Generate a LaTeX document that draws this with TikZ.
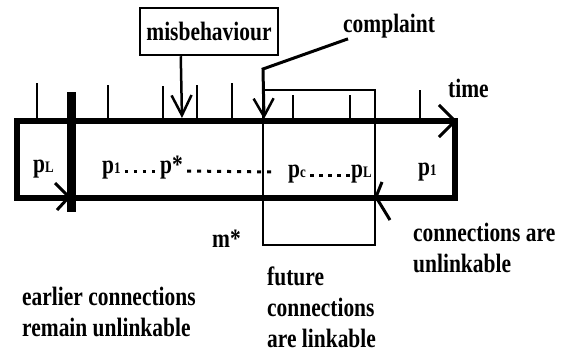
\documentclass[tikz,border=0pt]{standalone}
\usepackage{fontspec}
\setmainfont{Liberation Serif}[FakeStretch=0.81]
\usetikzlibrary{arrows.meta}

% p with a small index set on the baseline
\newcommand{\pidx}[1]{p{\fontsize{16}{16}\selectfont #1}}

\begin{document}
\begin{tikzpicture}[x=1pt,y=-1pt,
  txt/.style={font=\fontsize{26.5}{31}\selectfont\bfseries, inner sep=0pt, anchor=base west, align=left},
  frame/.style={line width=5.5pt},
  thin/.style={line width=2.5pt},
  tick/.style={line width=2pt},
  barb/.style={-{Straight Barb[length=#1,width=20pt,line width=2.5pt]}},
  dots/.style={line width=3pt, dash pattern=on 3pt off 6pt}
]
\useasboundingbox (0,0) rectangle (562,353);

% labelled box at the top
\node[txt, anchor=center, draw, line width=2.5pt, minimum width=138pt, minimum height=47pt]
  (mis) at (209,31.5) {misbehaviour};
\node[txt] (complaint) at (343,33) {complaint};
\node[txt] (time) at (448,97) {time};

% time line and session frame
\coordinate (t0) at (17,121);
\coordinate (t1) at (457,121);
\draw[frame] (17,121) rectangle (455,198);
\draw[frame, -{Straight Barb[length=16pt,width=32pt,line width=3pt]}] (t0) -- (t1);

% ticks on the time line
\foreach \x/\top in {37/83,108/85,163/86,197/85,232/83,293/95,350/95,420/90}
  \draw[tick] (\x,\top) -- (\x,121);

% thick cut bar with its marker
\draw[line width=9pt] (71.5,92) -- (71.5,212);
\draw[line width=3pt] (55,183) -- (69,197) -- (57,210);

% window of linkable connections
\draw[thin] (263,90) rectangle (375,245);
\draw[line width=3pt] (382,182) -- (376,197) -- (390,220);

% pointers from the labels to the time line
\coordinate (cp) at ([xshift=5pt]complaint.south west);
\coordinate (cbend) at (263,69);
\coordinate (ctip) at (264,119);
\draw[line width=3pt, barb=18pt] (cp) -- (cbend) -- (ctip);
\coordinate (mtip) at (182,118);
\draw[thin, barb=20pt] ([xshift=42pt]mis.south west) -- (mtip);

% pseudonyms along the session
\node[txt] (pL0) at (33,172) {\pidx{L}};
\node[txt] (p1a) at (102,173) {\pidx{1}};
\node[txt] (ps) at (160,173) {p*};
\node[txt] (pc) at (288,177) {\pidx{c}};
\node[txt] (pL1) at (351,177) {\pidx{L}};
\node[txt] (p1b) at (418,175) {\pidx{1}};
\coordinate (dend) at (272,172);
\draw[dots] ([xshift=4pt,yshift=2pt]p1a.base east) -- ([yshift=2pt]ps.base west);
\draw[dots, dash pattern=on 4pt off 6pt] ([xshift=4pt,yshift=2pt]ps.base east) -- (dend);
\draw[dots, dash pattern=on 4pt off 5pt] ([xshift=4pt,yshift=2pt]pc.base east) -- ([yshift=2pt]pL1.base west);

% captions (anchored at the baseline of their last line)
\node[txt] (mstar) at (212,247) {m*};
\node[txt] (earlier) at (22,336) {earlier connections\\remain unlinkable};
\node[txt] (future) at (267,347) {future\\connections\\are linkable};
\node[txt] (unlink) at (413,272) {connections are\\unlinkable};
\end{tikzpicture}
\end{document}
